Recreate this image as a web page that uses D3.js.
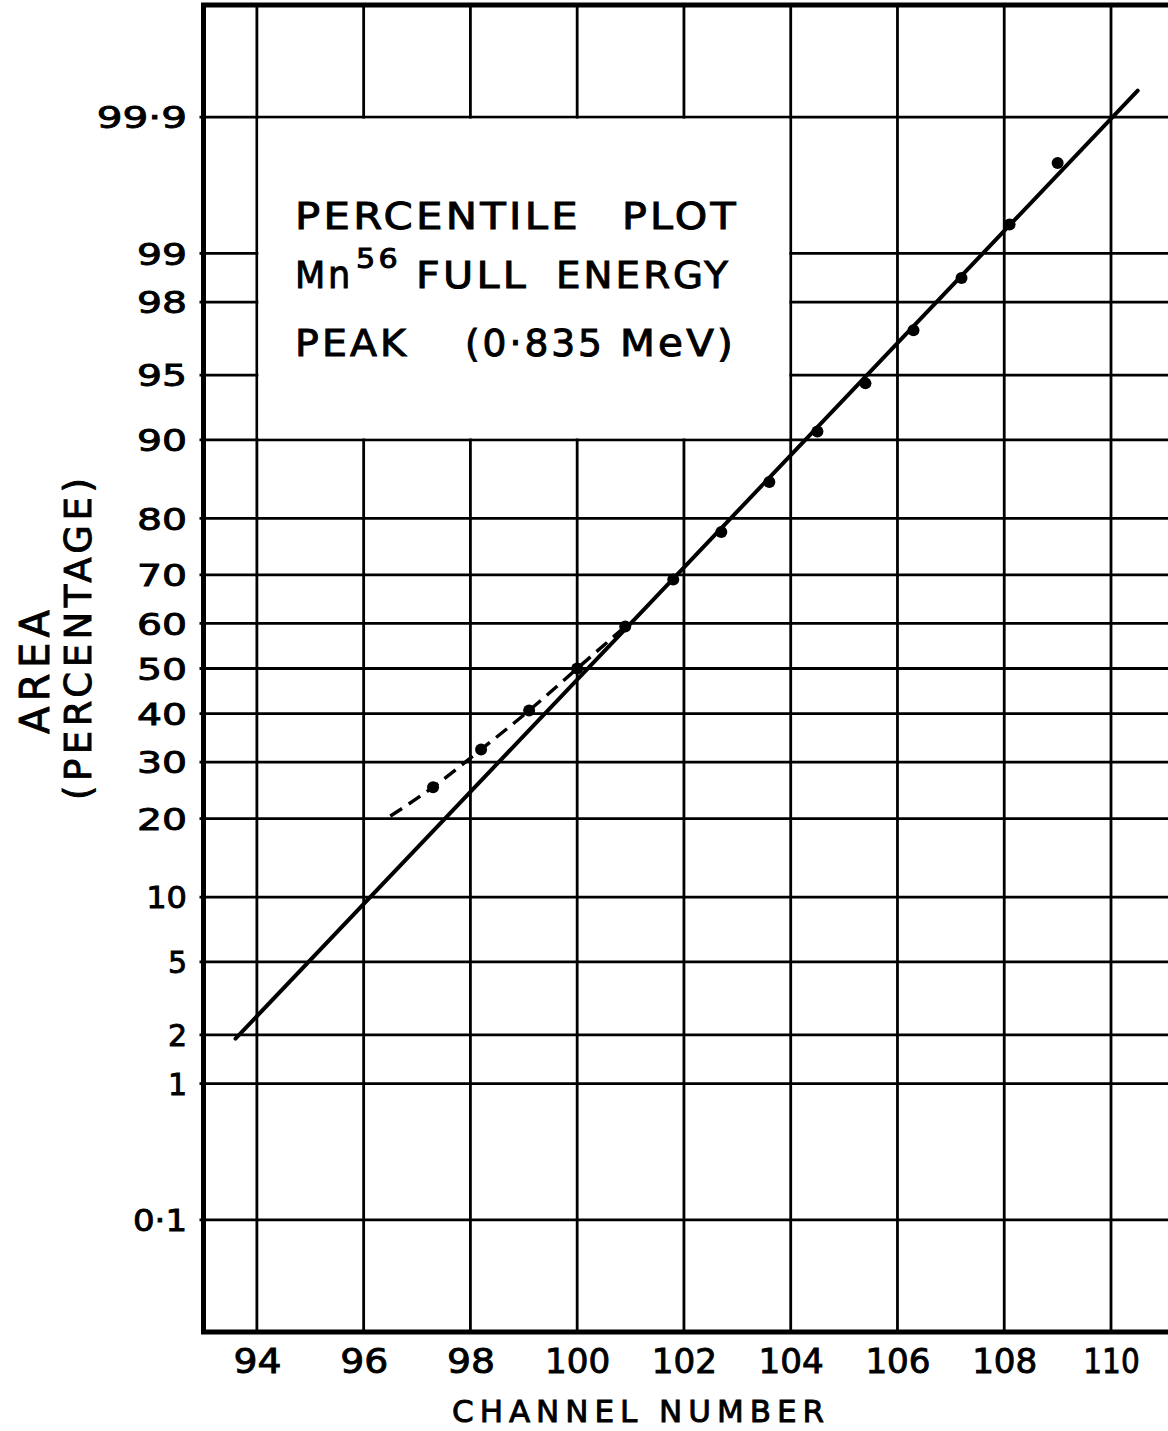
<!DOCTYPE html>
<html>
<head>
<meta charset="utf-8">
<script src="https://cdn.jsdelivr.net/npm/d3@7"></script>
<style>
  html, body { margin: 0; padding: 0; background: #fff; }
  svg { display: block; }
  text { font-family: "DejaVu Sans", sans-serif; fill: #000; }
</style>
</head>
<body>
<svg id="chart" width="1168" height="1431"></svg>
<script>
// ---- data ----
const channelTicks = [94, 96, 98, 100, 102, 104, 106, 108, 110];
const percentTicks = [0.1, 1, 2, 5, 10, 20, 30, 40, 50, 60, 70, 80, 90, 95, 98, 99, 99.9];

// measured cumulative area of the 0.835 MeV peak
const pointChannels = [97.3, 98.2, 99.1, 100.0, 100.9, 101.8, 102.7, 103.6, 104.5, 105.4, 106.3, 107.2, 108.1, 109.0];
const pointPercents = [25.3, 32.5, 40.7, 50.0, 59.3, 69.1, 77.8, 85.2, 90.8, 94.5, 97.1, 98.57, 99.36, 99.77];

// straight (gaussian) fit line
const fitChannels = [93.6, 110.5];
const fitPercents = [1.9, 99.94];

// dashed curve through the low-side tail
const tailChannels = [96.5, 97.3, 98.2, 99.1, 100.0, 100.9];
const tailPercents = [20.4, 25.3, 32.5, 40.7, 50.0, 59.3];

// ---- normal probability scale ----
function probit(p) {
  const a = [-3.969683028665376e+01, 2.209460984245205e+02, -2.759285104469687e+02,
             1.383577518672690e+02, -3.066479806614716e+01, 2.506628277459239e+00];
  const b = [-5.447609879822406e+01, 1.615858368580409e+02, -1.556989798598866e+02,
             6.680131188771972e+01, -1.328068155288572e+01];
  const c = [-7.784894002430293e-03, -3.223964580411365e-01, -2.400758277161838e+00,
             -2.549732539343734e+00, 4.374664141464968e+00, 2.938163982698783e+00];
  const d = [7.784695709041462e-03, 3.224671290700398e-01, 2.445134137142996e+00,
             3.754408661907416e+00];
  const pl = 0.02425, ph = 1 - pl;
  if (p < pl) {
    const q = Math.sqrt(-2 * Math.log(p));
    return (((((c[0]*q+c[1])*q+c[2])*q+c[3])*q+c[4])*q+c[5]) / ((((d[0]*q+d[1])*q+d[2])*q+d[3])*q+1);
  }
  if (p <= ph) {
    const q = p - 0.5, r = q * q;
    return (((((a[0]*r+a[1])*r+a[2])*r+a[3])*r+a[4])*r+a[5])*q / (((((b[0]*r+b[1])*r+b[2])*r+b[3])*r+b[4])*r+1);
  }
  const q = Math.sqrt(-2 * Math.log(1 - p));
  return -(((((c[0]*q+c[1])*q+c[2])*q+c[3])*q+c[4])*q+c[5]) / ((((d[0]*q+d[1])*q+d[2])*q+d[3])*q+1);
}

function scaleProbit() {
  const z = d3.scaleLinear();
  let dom = [0.01, 99.99];
  function s(p) { return z(probit(p / 100)); }
  s.domain = function (v) {
    if (!arguments.length) return dom.slice();
    dom = v.slice();
    z.domain(dom.map(p => probit(p / 100)));
    return s;
  };
  s.range = function (r) {
    if (!arguments.length) return z.range();
    z.range(r);
    return s;
  };
  s.copy = function () { return scaleProbit().domain(dom).range(z.range()); };
  return s.domain(dom);
}

const svg = d3.select("#chart");

const x = d3.scaleLinear().domain([93, 110]).range([203.5, 1111]);
const y = scaleProbit().domain([0.01, 99.99]).range([1332, 5]);

const xLeft = x(93), xRight = x(111.5);
const yTop = y(99.99), yBottom = y(0.01);

// ---- grid ----
const grid = svg.append("g").attr("stroke", "#000").attr("stroke-width", 2.8);
grid.selectAll("line.v").data(channelTicks).join("line")
  .attr("class", "v")
  .attr("x1", d => x(d)).attr("x2", d => x(d))
  .attr("y1", yTop).attr("y2", yBottom);
grid.selectAll("line.h").data(percentTicks).join("line")
  .attr("class", "h")
  .attr("x1", xLeft - 4).attr("x2", xRight)
  .attr("y1", d => y(d)).attr("y2", d => y(d));

// white caption panel between channels 94-104 and 90-99.9 %
const inset = 1.5;
svg.append("rect")
  .attr("x", x(94) + inset).attr("y", y(99.9) + inset)
  .attr("width", x(104) - x(94) - 2 * inset)
  .attr("height", y(90) - y(99.9) - 2 * inset)
  .attr("fill", "#fff");

// frame
svg.append("rect")
  .attr("x", xLeft).attr("y", yTop)
  .attr("width", xRight - xLeft).attr("height", yBottom - yTop)
  .attr("fill", "none").attr("stroke", "#000").attr("stroke-width", 5);

// ---- axes ----
function charWidth(ch, base) {
  if (ch === "1") return base * 0.6;
  if (ch === "·") return base * 0.4;
  return base;
}
function labelWidth(str, base, gap) {
  let w = 0;
  for (const ch of str) w += charWidth(ch, base);
  return w + gap * (str.length - 1);
}

const fmt = d => String(d).replace(".", "·");
const inkStroke = 0.9;

const yAxis = d3.axisLeft(y).tickValues(percentTicks).tickFormat(fmt).tickSize(0).tickPadding(16.5);
const gy = svg.append("g").attr("transform", `translate(${xLeft},0)`).call(yAxis);
gy.attr("font-size", null).attr("font-family", null);
gy.select(".domain").remove();
gy.selectAll("text")
  .attr("font-size", 30).attr("dy", "0.36em")
  .attr("stroke", "#000").attr("stroke-width", inkStroke)
  .filter(d => fmt(d).length > 1)
  .attr("textLength", d => labelWidth(fmt(d), 23, 4))
  .attr("lengthAdjust", "spacingAndGlyphs");

const xAxis = d3.axisBottom(x).tickValues(channelTicks).tickSize(0).tickPadding(17);
const gx = svg.append("g").attr("transform", `translate(0,${yBottom})`).call(xAxis);
gx.attr("font-size", null).attr("font-family", null);
gx.select(".domain").remove();
gx.selectAll("text")
  .attr("font-size", 34)
  .attr("stroke", "#000").attr("stroke-width", inkStroke)
  .attr("textLength", d => labelWidth(String(d), 22, 4))
  .attr("lengthAdjust", "spacingAndGlyphs");

// axis titles
svg.append("text")
  .attr("x", 638).attr("y", 1422)
  .attr("text-anchor", "middle")
  .attr("font-size", 31)
  .attr("stroke", "#000").attr("stroke-width", inkStroke)
  .attr("textLength", 372).attr("lengthAdjust", "spacing")
  .text("CHANNEL NUMBER");

svg.append("text")
  .attr("transform", "translate(49,672) rotate(-90)")
  .attr("text-anchor", "middle")
  .attr("font-size", 40)
  .attr("stroke", "#000").attr("stroke-width", inkStroke)
  .attr("textLength", 124).attr("lengthAdjust", "spacing")
  .text("AREA");

svg.append("text")
  .attr("transform", "translate(91,639) rotate(-90)")
  .attr("text-anchor", "middle")
  .attr("font-size", 37)
  .attr("stroke", "#000").attr("stroke-width", inkStroke)
  .attr("textLength", 322).attr("lengthAdjust", "spacing")
  .text("(PERCENTAGE)");

// ---- caption ----
const caption = svg.append("g")
  .attr("font-size", 38)
  .attr("stroke", "#000").attr("stroke-width", 1);
function word(str, x0, base, width, size) {
  const t = caption.append("text")
    .attr("x", x0).attr("y", base)
    .attr("letter-spacing", 3)
    .attr("textLength", width).attr("lengthAdjust", "spacingAndGlyphs")
    .text(str);
  if (size) t.attr("font-size", size);
  return t;
}
word("PERCENTILE", 295, 229, 286);
word("PLOT", 622, 229, 117);
word("Mn", 295, 288, 58);
word("56", 356, 268, 45, 27);
word("FULL", 416, 288, 113);
word("ENERGY", 556, 288, 175);
word("PEAK", 295, 356, 114);
word("(0·835", 465, 356, 140);
word("MeV)", 620, 356, 116);

// ---- fit line, tail curve and data points ----
const line = d3.line().x(d => x(d[0])).y(d => y(d[1]));

svg.append("path")
  .datum(d3.zip(fitChannels, fitPercents))
  .attr("d", line)
  .attr("fill", "none").attr("stroke", "#000")
  .attr("stroke-width", 4).attr("stroke-linecap", "round");

svg.append("path")
  .datum(d3.zip(tailChannels, tailPercents))
  .attr("d", line.curve(d3.curveMonotoneX))
  .attr("fill", "none").attr("stroke", "#000")
  .attr("stroke-width", 3.4).attr("stroke-dasharray", "14,8");

svg.append("g").selectAll("circle")
  .data(d3.zip(pointChannels, pointPercents))
  .join("circle")
  .attr("cx", d => x(d[0])).attr("cy", d => y(d[1]))
  .attr("r", 6).attr("fill", "#000");
</script>
</body>
</html>
